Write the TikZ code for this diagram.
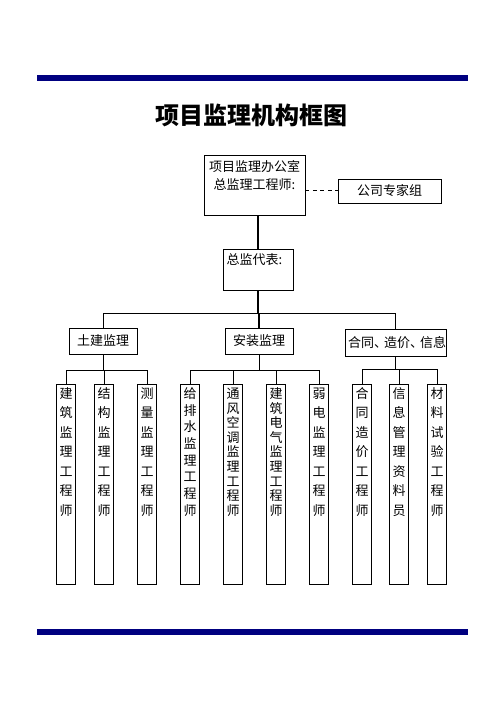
\documentclass[tikz,border=0pt]{standalone}
\usepackage{fontspec}
\usepackage{tikz}
\usetikzlibrary{positioning}
\newfontfamily\cjk{Noto Sans CJK SC}
\definecolor{barblue}{RGB}{0,0,128}

\begin{document}
\begin{tikzpicture}[x=1pt,y=-1pt,line width=1pt]
  \tikzstyle{unit}=[draw=black,line width=0.8pt,inner sep=3pt,font=\cjk\fontsize{13}{18}\selectfont]
  \tikzstyle{duty}=[unit,anchor=north,text width=13pt,align=center,
                    text height=11.5pt,text depth=183pt,font=\cjk\fontsize{13}{19.5}\selectfont]
  \tikzstyle{trunk}=[line width=2pt]
  \useasboundingbox (0,0) rectangle (503,711);

  \fill[barblue] (37,75) rectangle (468,81);
  \fill[barblue] (37,629) rectangle (468,635);

  \node[font=\cjk\bfseries\fontsize{24}{24}\selectfont] (title) at (251.5,115) {项目监理机构框图};

  \node[unit,anchor=north,text width=95pt,align=center,text height=13.5pt,text depth=40.5pt]
        (office) at (254.5,155) {项目监理办公室\\总监理工程师:};
  \node[unit,minimum width=103pt,minimum height=24pt] (expert) at (389.5,191) {公司专家组};
  \node[unit,anchor=north,text width=63pt,align=left,inner xsep=3.5pt,text height=12.5pt,text depth=22.5pt]
        (rep) at (258,249) {总监代表:};

  \node[unit,minimum width=68pt,minimum height=26pt] (tj) at (103,341) {土建监理};
  \node[unit,minimum width=68pt,minimum height=26pt] (az) at (259,341) {安装监理};
  \node[unit,text width=95pt,align=center,inner xsep=3pt,minimum height=27pt] (ht) at (395.5,342.5)
        {合同、\kern-3pt造价、\kern-3pt信息};

  % bottom row
  \node[duty] (jz) at (66,383.5)  {建\\筑\\监\\理\\工\\程\\师};
  \node[duty] (jg) at (104,383.5) {结\\构\\监\\理\\工\\程\\师};
  \node[duty] (cl) at (147,383.5) {测\\量\\监\\理\\工\\程\\师};
  \node[duty,font=\cjk\fontsize{13}{16.7}\selectfont] (gps) at (190,383.5) {给\\排\\水\\监\\理\\工\\程\\师};
  \node[duty,font=\cjk\fontsize{13}{14.6}\selectfont] (tf) at (233,383.5) {通\\风\\空\\调\\监\\理\\工\\程\\师};
  \node[duty,font=\cjk\fontsize{13}{14.6}\selectfont] (dq) at (276,383.5) {建\\筑\\电\\气\\监\\理\\工\\程\\师};
  \node[duty] (rd) at (319,383.5) {弱\\电\\监\\理\\工\\程\\师};
  \node[duty] (zj) at (362,383.5) {合\\同\\造\\价\\工\\程\\师};
  \node[duty] (xx) at (399,383.5) {信\\息\\管\\理\\资\\料\\员};
  \node[duty] (sy) at (437,383.5) {材\\料\\试\\验\\工\\程\\师};

  \draw[dashed,dash pattern=on 4pt off 3.5pt] (office.east |- expert.west) -- (expert.west);
  \draw[trunk] (rep.north |- office.south) -- (rep.north);
  \draw[trunk] (rep.south) -- ++(0,23) coordinate (bus);
  \draw (tj.north |- bus) -- (ht.north |- bus);
  \draw (tj.north |- bus) -- (tj.north)
        (ht.north |- bus) -- (ht.north);
  \draw[trunk] (az.north |- bus) -- (az.north);

  % 土建
  \draw (tj.south) -- ++(0,16) coordinate (tjbus);
  \draw (jz.north |- tjbus) -- (cl.north |- tjbus);
  \foreach \n in {jz,jg,cl} \draw (\n.north |- tjbus) -- (\n.north);
  % 安装
  \draw (az.south) -- ++(0,16) coordinate (azbus);
  \draw (gps.north |- azbus) -- (rd.north |- azbus);
  \foreach \n in {gps,tf,dq,rd} \draw (\n.north |- azbus) -- (\n.north);
  % 合同
  \draw (ht.south) -- ++(0,13) coordinate (htbus);
  \draw (zj.north |- htbus) -- (sy.north |- htbus);
  \foreach \n in {zj,xx,sy} \draw (\n.north |- htbus) -- (\n.north);
\end{tikzpicture}
\end{document}
